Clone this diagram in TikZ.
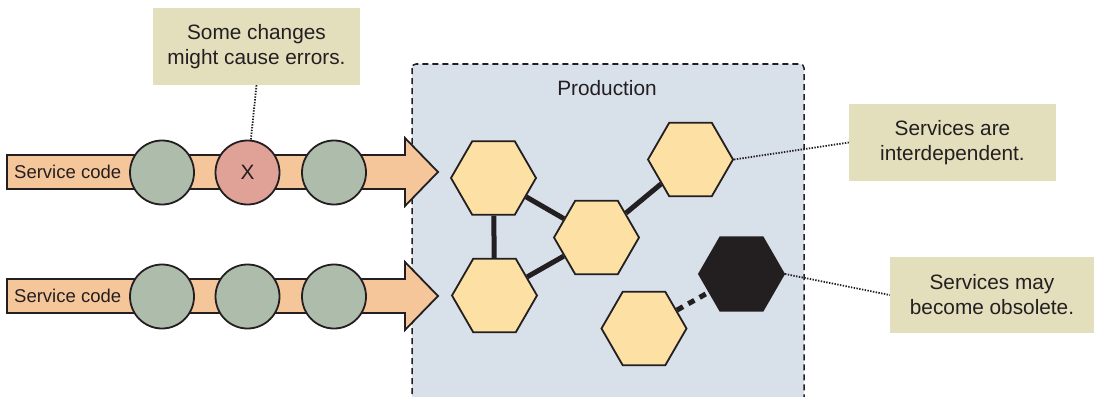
\documentclass[tikz,border=0pt]{standalone}
\usepackage{fontspec}
\setmainfont{Liberation Sans}
\usetikzlibrary{shapes.geometric}
\definecolor{arrowfill}{HTML}{F6C69B}
\definecolor{circfill}{HTML}{AEBCAB}
\definecolor{errfill}{HTML}{E0A196}
\definecolor{hexfill}{HTML}{FDE1A4}
\definecolor{darkink}{HTML}{231F20}
\definecolor{notefill}{HTML}{E3DFBD}
\definecolor{prodfill}{HTML}{D8E0EA}
\tikzset{
  codearrow/.style={draw=darkink, line width=1.8pt, fill=arrowfill, line join=miter},
  svc/.style={circle, draw=darkink, line width=1.8pt, fill=circfill, minimum size=64pt, inner sep=0pt},
  errsvc/.style={svc, fill=errfill},
  hexa/.style={regular polygon, regular polygon sides=6, draw=darkink, line width=1.8pt, fill=hexfill, minimum size=85pt, inner sep=0pt},
  deadhexa/.style={hexa, fill=darkink},
  link/.style={draw=darkink, line width=5pt},
  deadlink/.style={link, dash pattern=on 7pt off 6pt},
  note/.style={fill=notefill, align=center, text=darkink, font=\fontsize{20.8}{25}\selectfont, inner sep=0pt},
  callline/.style={draw=darkink, line width=1.8pt, dash pattern=on 1.4pt off 1.4pt},
  prodbox/.style={draw=darkink, line width=1.5pt, dash pattern=on 6pt off 4pt, fill=prodfill, rounded corners=4pt},
  lbl/.style={text=darkink, inner sep=0pt},
}
\begin{document}
\begin{tikzpicture}[x=1pt, y=-1pt]
\useasboundingbox (0,0) rectangle (1094,396);
\begin{scope}
  \clip (0,0) rectangle (1094,396);
  \draw[prodbox] (412,64) rectangle (804,420);
\end{scope}
\node[lbl, font=\fontsize{20.8}{25}\selectfont] (prod) at (607,88) {Production};

% arrows
\draw[codearrow] (7,155) -- (405,155) -- (405,138) -- (438,172) -- (405,206) -- (405,189) -- (7,189) -- cycle;
\draw[codearrow] (7,279) -- (405,279) -- (405,262) -- (438,296) -- (405,330) -- (405,313) -- (7,313) -- cycle;
\node[lbl, anchor=west, font=\fontsize{18.5}{22}\selectfont] (sc1) at (14,172) {Service code};
\node[lbl, anchor=west, font=\fontsize{18.5}{22}\selectfont] (sc2) at (14,296) {Service code};

% circles
\node[svc] (c11) at (162,172.5) {};
\node[errsvc, font=\fontsize{20.8}{25}\selectfont, text=darkink] (cx) at (247.5,172.5) {X};
\node[svc] (c13) at (334,172.5) {};
\node[svc] (c21) at (162,296.5) {};
\node[svc] (c22) at (247.5,296.5) {};
\node[svc] (c23) at (334,296.5) {};

% hexagons
\node[hexa] (h1) at (493.5,178) {};
\node[hexa] (h2) at (494.5,295.5) {};
\node[hexa] (h3) at (596.5,237.5) {};
\node[hexa] (h4) at (690.5,159.5) {};
\node[deadhexa] (h5) at (741.5,274) {};
\node[hexa] (h6) at (644,328.5) {};

\draw[link] (h1) -- (h2);
\draw[link] (h1) -- (h3);
\draw[link] (h2) -- (h3);
\draw[link] (h3) -- (h4);
\draw[deadlink] (h6) -- (h5);

% notes
\node[note, minimum width=207pt, minimum height=77pt] (n1) at (256.5,46.5) {Some changes\\might cause errors.};
\node[note, minimum width=207pt, minimum height=77pt] (n2) at (952.5,142.5) {Services are\\interdependent.};
\node[note, minimum width=204pt, minimum height=76pt] (n3) at (992,295) {Services may\\become obsolete.};

\draw[callline] (n1.south) -- (cx);
\draw[callline] (h4.east) -- (n2.west);
\draw[callline] (h5.east) -- (n3.west);
\end{tikzpicture}
\end{document}
